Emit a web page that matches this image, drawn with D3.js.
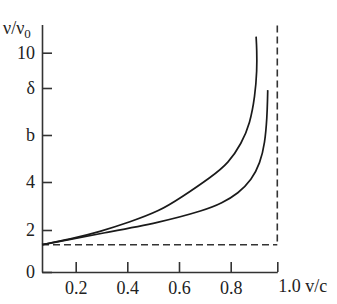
<!DOCTYPE html>
<html>
<head>
<meta charset="utf-8">
<script src="https://cdn.jsdelivr.net/npm/d3@7"></script>
<style>
  body { margin: 0; background: #fff; }
  svg text { font-family: "Liberation Serif", "Times New Roman", Times, serif; font-size: 18px; fill: #222; }
  .axis path, .axis line { stroke: #333; stroke-width: 1.6; }
</style>
</head>
<body>
<script>
const Width = 337;
const Height = 304;

// y ticks and labels as printed in the figure
const yTicks = [0, 2, 4, 6, 8, 10];
const yLabels = ["0", "2", "4", "b", "δ", "10"];
const xTicks = [0.2, 0.4, 0.6, 0.8, 1.0];
const xLabels = ["0.2", "0.4", "0.6", "0.8", ""];

// limit level (dashed lines)
const limitY = 1.3;
const limitX = 1.0;

// upper curve (v/c, ν/ν0)
const upperX = [0.07, 0.178, 0.294, 0.41, 0.526, 0.604, 0.727, 0.791, 0.847, 0.883, 0.904, 0.913, 0.912, 0.909];
const upperY = [1.30, 1.56, 1.92, 2.33, 2.80, 3.32, 4.23, 4.80, 5.65, 6.50, 7.63, 9.00, 10.2, 10.91];

// lower curve
const lowerX = [0.07, 0.178, 0.294, 0.526, 0.701, 0.765, 0.833, 0.890, 0.926, 0.947, 0.956, 0.958, 0.959];
const lowerY = [1.30, 1.55, 1.83, 2.31, 2.83, 3.11, 3.53, 4.09, 4.80, 5.65, 6.78, 7.50, 7.91];

const svg = d3.select('body')
  .append('svg')
    .attr('width', Width)
    .attr('height', Height);

// the printed axes are not quite linear, so use piecewise scales
const xScale = d3.scaleLinear()
  .domain([0.07, 0.2, 0.4, 0.6, 0.8, 1.0])
  .range([42, 75.7, 127.3, 179, 230.7, 277.3]);

const yScale = d3.scaleLinear()
  .domain([0, 2, 4, 6, 8, 10, 11.6])
  .range([272, 230, 182, 135, 88, 52.7, 24.5]);

// dashed limit lines
svg.append('line')
  .attr('x1', xScale(0.07)).attr('x2', xScale(limitX))
  .attr('y1', yScale(limitY)).attr('y2', yScale(limitY))
  .attr('stroke', '#333').attr('stroke-width', 1.6)
  .attr('stroke-dasharray', '7,4');

svg.append('line')
  .attr('x1', xScale(limitX)).attr('x2', xScale(limitX))
  .attr('y1', yScale(11.55)).attr('y2', yScale(limitY))
  .attr('stroke', '#333').attr('stroke-width', 1.6)
  .attr('stroke-dasharray', '7,4');

// axes
const yAxis = d3.axisLeft(yScale)
  .tickValues(yTicks)
  .tickSize(-10)
  .tickSizeOuter(0)
  .tickPadding(7)
  .tickFormat((d, i) => yLabels[i]);

svg.append('g')
  .attr('class', 'axis')
  .attr('transform', `translate(${xScale(0.07)}, 0)`)
  .call(yAxis);

const xAxis = d3.axisBottom(xScale)
  .tickValues(xTicks)
  .tickSize(-10)
  .tickSizeOuter(0)
  .tickPadding(9)
  .tickFormat((d, i) => xLabels[i]);

svg.append('g')
  .attr('class', 'axis')
  .attr('transform', `translate(0, ${yScale(0)})`)
  .call(xAxis);

svg.selectAll('.axis').attr('font-family', null).attr('font-size', null);

// axis titles
const yTitle = svg.append('text')
  .attr('x', 3)
  .attr('y', 34);
yTitle.append('tspan').text('ν/ν');
yTitle.append('tspan').attr('dy', 4).style('font-size', '13px').text('0');

svg.append('text')
  .attr('x', xScale(1.0) + 1)
  .attr('y', 292)
  .text('1.0 v/c');

// curves (b-spline smooths the hand-read points)
const line = d3.line()
  .x(d => xScale(d[0]))
  .y(d => yScale(d[1]))
  .curve(d3.curveBasis);

svg.append('path')
  .datum(upperX.map((v, i) => [v, upperY[i]]))
  .attr('fill', 'none')
  .attr('stroke', '#1a1a1a')
  .attr('stroke-width', 1.7)
  .attr('d', line);

svg.append('path')
  .datum(lowerX.map((v, i) => [v, lowerY[i]]))
  .attr('fill', 'none')
  .attr('stroke', '#1a1a1a')
  .attr('stroke-width', 1.7)
  .attr('d', line);
</script>
</body>
</html>
